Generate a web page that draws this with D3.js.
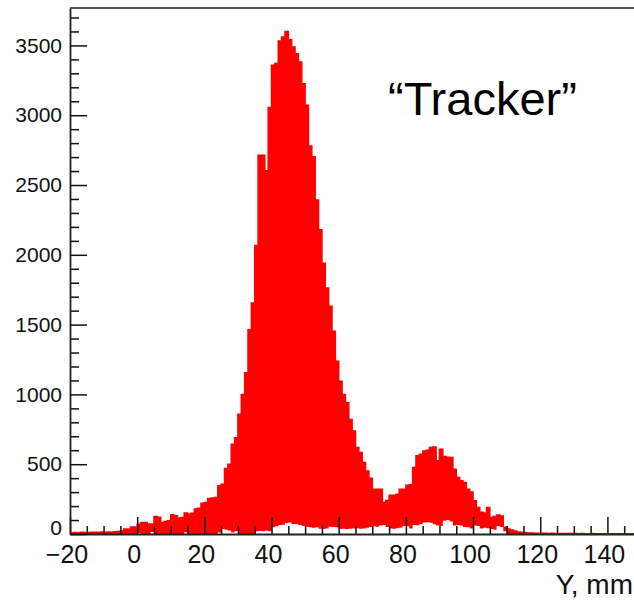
<!DOCTYPE html>
<html>
<head>
<meta charset="utf-8">
<script src="https://cdn.jsdelivr.net/npm/d3@7"></script>
<style>
  body { margin: 0; background: #fff; }
  svg { display: block; font-family: "Liberation Sans", Arial, sans-serif; }
  .axis text { fill: #111; }
  .axis line { stroke: #111; stroke-width: 1.5; }
  .axis path { stroke: #222; stroke-width: 1.8; }
</style>
</head>
<body>
<svg id="chart" width="634" height="603"></svg>
<script>
// Histogram binning: 1 mm bins starting at -20
const binStart = -20;
const binWidth = 1;

// Main "Tracker" histogram (red), counts per bin
const counts = [
  8, 10, 9, 12, 11, 10, 13, 12, 11, 14, 12, 15, 13, 16, 18, 22,
  35, 35, 50, 50,
  70, 83, 83, 71, 71, 126, 120, 83, 90, 95,
  138, 130, 114, 118, 150, 143, 148, 179, 185, 221,
  225, 255, 258, 262, 345, 357, 469, 500, 643, 690,
  857, 1000, 1155, 1464, 1655, 2067, 2714, 2714, 2602, 3055,
  3357, 3370, 3531, 3560, 3600, 3540, 3488, 3440, 3381, 3226,
  3071, 2780, 2702, 2393, 2179, 1940, 1762, 1631, 1452, 1238,
  1095, 1000, 941, 821, 738, 619, 583, 512, 452, 400,
  321, 321, 321, 226, 240, 278, 278, 285, 321, 321,
  350, 352, 476, 560, 571, 595, 600, 619, 624, 524,
  607, 555, 550, 548, 464, 405, 381, 369, 321, 300,
  238, 190, 155, 150, 190, 119, 125, 136, 129, 48,
  36, 28, 22, 15, 12, 10, 8, 7, 6, 6,
  5, 5, 4, 5, 4, 4, 3, 4, 3, 3,
  3, 2, 3, 2, 2, 3, 2, 2, 2, 2,
  2, 2, 1, 2, 1, 1, 2, 1, 1, 1
];

// Second histogram drawn in white on top (the notches along the base)
const bgCounts = [
  0, 0, 0, 0, 0, 0, 0, 0, 0, 0, 0, 0, 0, 0, 0, 0, 0, 0, 0, 0,
  8, 0, 0, 0, 14, 0, 0, 0, 0, 0,
  0, 0, 0, 0, 12, 0, 0, 0, 0, 0,
  0, 0, 0, 0, 10, 36, 30, 25, 10, 20,
  0, 0, 0, 0, 0, 20, 22, 20, 25, 20,
  48, 55, 64, 66, 78, 83, 71, 72, 64, 57,
  52, 48, 45, 48, 38, 36, 40, 52, 50, 48,
  36, 38, 35, 37, 40, 42, 38, 40, 44, 50,
  55, 52, 60, 64, 50, 40, 38, 42, 45, 57,
  55, 40, 64, 62, 70, 83, 85, 80, 70, 60,
  58, 95, 100, 90, 60, 64, 60, 50, 48, 40,
  60, 58, 40, 45, 42, 36, 30, 57, 50, 20,
  0, 0, 0, 0, 0, 0, 0, 0, 0, 0, 0, 0, 0, 0, 0, 0, 0, 0, 0, 0,
  0, 0, 0, 0, 0, 0, 0, 0, 0, 0, 0, 0, 0, 0, 0, 0, 0, 0, 0, 0
];

// Axis ticks and labels
const xMajorTicks = [-20, 0, 20, 40, 60, 80, 100, 120, 140];
const xTickLabels = ["\u221220", "0", "20", "40", "60", "80", "100", "120", "140"];
const yMajorTicks = [0, 500, 1000, 1500, 2000, 2500, 3000, 3500];
const yTickLabels = ["0", "500", "1000", "1500", "2000", "2500", "3000", "3500"];
const xTitle = "Y, mm";
const note = "\u201CTracker\u201D";

const xDomain = [-20, 150];
const yDomain = [0, 3768];

const svg = d3.select('#chart');
const margin = { left: 70, top: 8, bottom: 534, right: 641 };

const x = d3.scaleLinear().domain(xDomain).range([margin.left, margin.right]);
const y = d3.scaleLinear().domain(yDomain).range([margin.bottom, margin.top]);

// turn bin arrays into step points (extra point closes last bin)
function steps(arr) {
  const pts = arr.map((c, i) => ({ x0: binStart + i * binWidth, c }));
  pts.push({ x0: binStart + arr.length * binWidth, c: arr[arr.length - 1] });
  return pts;
}

const area = d3.area()
  .curve(d3.curveStepAfter)
  .x(d => x(d.x0))
  .y0(y(0))
  .y1(d => y(d.c));

const line = d3.line()
  .curve(d3.curveStepAfter)
  .x(d => x(d.x0))
  .y(d => y(d.c));

const plot = svg.append('g');

plot.append('path')
  .datum(steps(counts))
  .attr('d', area)
  .attr('fill', '#ff0000');

plot.append('path')
  .datum(steps(counts))
  .attr('d', line)
  .attr('fill', 'none')
  .attr('stroke', '#ff0000')
  .attr('stroke-width', 1.5);

plot.append('path')
  .datum(steps(bgCounts))
  .attr('d', area)
  .attr('fill', '#ffffff');

// frame top line
svg.append('line')
  .attr('x1', x(xDomain[0])).attr('x2', x(xDomain[1]))
  .attr('y1', y(yDomain[1])).attr('y2', y(yDomain[1]))
  .attr('stroke', '#555').attr('stroke-width', 2);

// minor ticks
const xMinor = d3.range(-20, 151, 5).filter(v => !xMajorTicks.includes(v));
const yMinor = d3.range(0, 3701, 100).filter(v => !yMajorTicks.includes(v));

svg.append('g')
  .attr('class', 'axis')
  .attr('transform', `translate(0,${y(0)})`)
  .call(d3.axisBottom(x).tickValues(xMinor).tickSize(-8).tickFormat(''))
  .call(g => g.select('.domain').remove());

svg.append('g')
  .attr('class', 'axis')
  .attr('transform', `translate(${x(xDomain[0])},0)`)
  .call(d3.axisLeft(y).tickValues(yMinor).tickSize(-9).tickFormat(''))
  .call(g => g.select('.domain').remove());

// major ticks with labels
const xAxis = svg.append('g')
  .attr('class', 'axis')
  .attr('transform', `translate(0,${y(0)})`)
  .call(d3.axisBottom(x)
    .tickValues(xMajorTicks)
    .tickSize(-17)
    .tickSizeOuter(0)
    .tickPadding(11)
    .tickFormat((d, i) => xTickLabels[i]));
xAxis.selectAll('text')
  .attr('x', -3.5)
  .style('font-size', '25px');

const yAxis = svg.append('g')
  .attr('class', 'axis')
  .attr('transform', `translate(${x(xDomain[0])},0)`)
  .call(d3.axisLeft(y)
    .tickValues(yMajorTicks)
    .tickSize(-17)
    .tickSizeOuter(0)
    .tickPadding(8)
    .tickFormat((d, i) => yTickLabels[i]));
yAxis.selectAll('text')
  .style('font-size', '21px');
// lift the zero label a little so it clears the x labels
yAxis.selectAll('text').filter(d => d === 0).attr('y', -6);

// axis title, right aligned
svg.append('text')
  .attr('x', 633)
  .attr('y', 594)
  .attr('text-anchor', 'end')
  .style('font-size', '28px')
  .attr('fill', '#111')
  .text(xTitle);

// annotation
svg.append('text')
  .attr('x', 388)
  .attr('y', 115)
  .style('font-size', '47px')
  .attr('fill', '#000')
  .text(note);
</script>
</body>
</html>
